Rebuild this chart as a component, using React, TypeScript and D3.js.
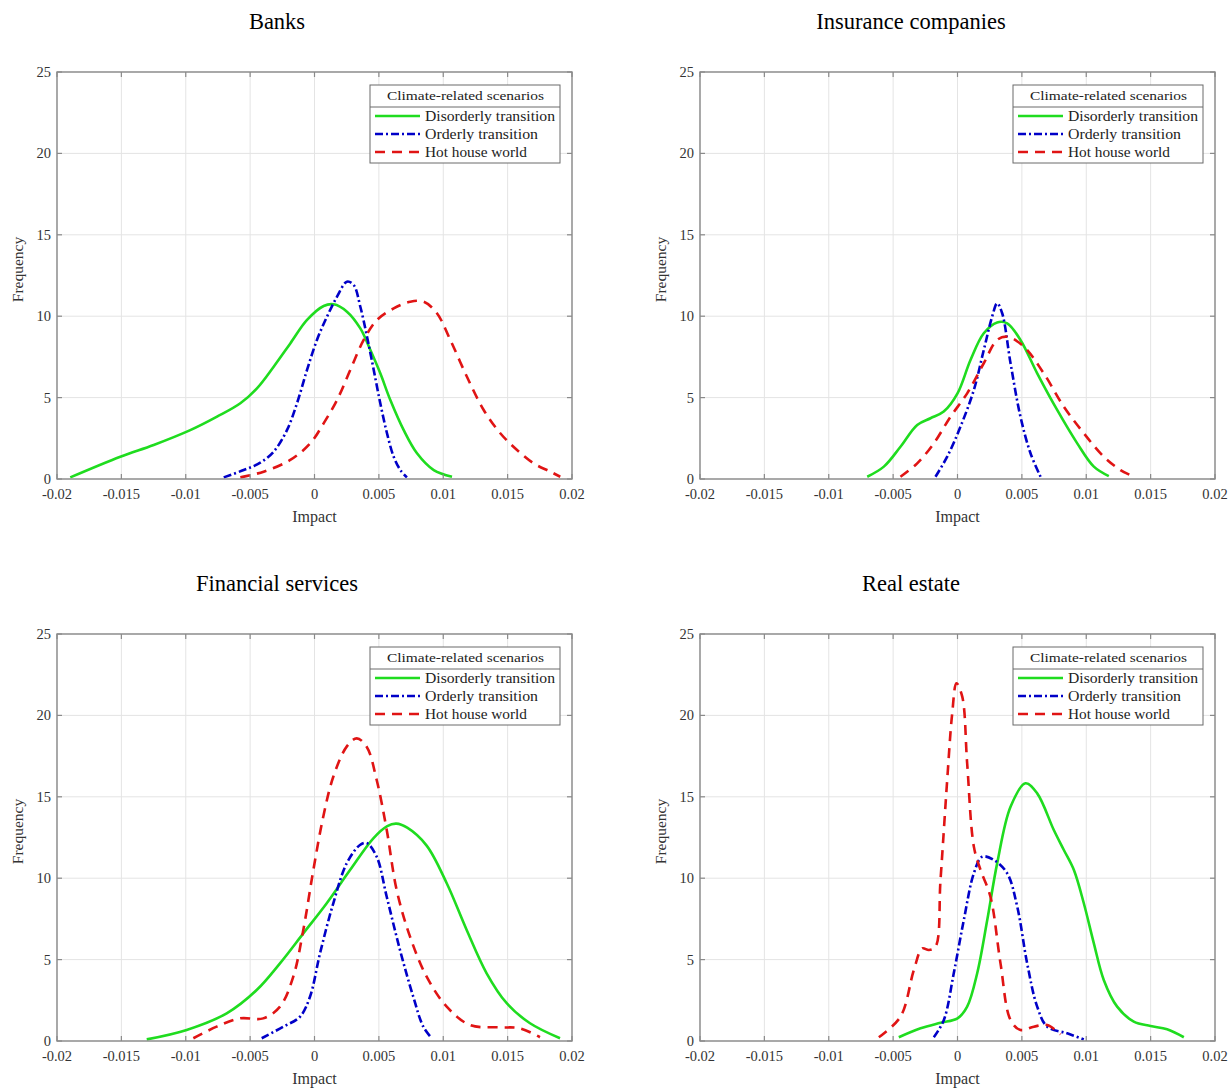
import React from "react";
import * as d3 from "d3";

type Pt = [number, number];

// ---- data (impact, frequency) ----
const banksDisorderly: Pt[] = [
  [-0.01897, 0.1], [-0.01508, 1.37], [-0.01249, 2.09], [-0.00965, 3.0], [-0.00757, 3.83],
  [-0.00576, 4.65], [-0.00447, 5.57], [-0.00317, 6.9], [-0.00188, 8.33], [-0.00058, 9.77],
  [0.00071, 10.63], [0.00149, 10.73], [0.00252, 10.28], [0.00356, 9.25], [0.00434, 7.92],
  [0.00511, 6.49], [0.00589, 4.85], [0.00693, 3.0], [0.00796, 1.58], [0.00926, 0.55], [0.01068, 0.14],
];
const banksOrderly: Pt[] = [
  [-0.00705, 0.1], [-0.0055, 0.55], [-0.00421, 1.0], [-0.00317, 1.68], [-0.00214, 3.0],
  [-0.00136, 4.65], [-0.00058, 6.7], [0.00019, 8.54], [0.00097, 9.97], [0.00175, 11.2],
  [0.00252, 12.12], [0.00304, 11.92], [0.00356, 10.58], [0.00408, 8.74], [0.0046, 6.7],
  [0.00511, 4.65], [0.00563, 2.81], [0.00615, 1.37], [0.00667, 0.55], [0.00718, 0.1],
];
const banksHotHouse: Pt[] = [
  [-0.00576, 0.1], [-0.00395, 0.45], [-0.00188, 1.17], [-0.00033, 2.19], [0.00071, 3.42],
  [0.00175, 4.85], [0.00278, 6.7], [0.00382, 8.54], [0.00485, 9.77], [0.00615, 10.48],
  [0.00744, 10.89], [0.00848, 10.89], [0.00951, 10.18], [0.01055, 8.54], [0.01184, 6.28],
  [0.01314, 4.24], [0.01443, 2.81], [0.01573, 1.78], [0.01702, 0.96], [0.01832, 0.45], [0.01909, 0.14],
];

const insDisorderly: Pt[] = [
  [-0.00701, 0.14], [-0.00572, 0.76], [-0.00443, 1.98], [-0.00313, 3.32], [-0.0021, 3.73],
  [-0.00107, 4.14], [0.0, 5.26], [0.00101, 7.31], [0.00204, 8.95], [0.00308, 9.62],
  [0.00386, 9.56], [0.00489, 8.54], [0.00619, 6.49], [0.00774, 4.24], [0.0093, 2.19],
  [0.01059, 0.76], [0.01175, 0.18],
];
const insOrderly: Pt[] = [
  [-0.00171, 0.14], [-0.0008, 1.37], [0.00023, 3.21], [0.00127, 5.47], [0.00204, 7.92],
  [0.00269, 9.97], [0.00308, 10.79], [0.00347, 10.18], [0.00412, 7.11], [0.00489, 3.83],
  [0.00567, 1.58], [0.00645, 0.14],
];
const insHotHouse: Pt[] = [
  [-0.00443, 0.14], [-0.00313, 0.96], [-0.00184, 2.19], [-0.00054, 3.83], [0.00075, 5.26],
  [0.00204, 7.11], [0.00308, 8.54], [0.00386, 8.74], [0.00515, 8.13], [0.0067, 6.49],
  [0.00826, 4.44], [0.00981, 2.81], [0.01136, 1.37], [0.01266, 0.55], [0.01369, 0.14],
];

const finDisorderly: Pt[] = [
  [-0.01303, 0.1], [-0.00993, 0.68], [-0.00682, 1.7], [-0.00449, 3.13], [-0.00268, 4.77],
  [-0.00087, 6.61], [0.00095, 8.46], [0.00276, 10.5], [0.00457, 12.45], [0.00565, 13.2],
  [0.00635, 13.35], [0.0072, 13.1], [0.00871, 12.0], [0.01027, 9.69], [0.01182, 6.82], [0.01337, 4.16],
  [0.01493, 2.32], [0.01674, 1.09], [0.01907, 0.17],
];
const finOrderly: Pt[] = [
  [-0.0041, 0.17], [-0.00242, 0.88], [-0.00113, 1.49], [-0.00035, 2.72], [0.00043, 5.39],
  [0.00146, 8.46], [0.0025, 10.91], [0.00353, 12.04], [0.00405, 12.16], [0.00483, 11.32],
  [0.00561, 8.86], [0.00664, 5.59], [0.00767, 2.72], [0.00845, 0.88], [0.0091, 0.17],
];
const finHotHouse: Pt[] = [
  [-0.00941, 0.17], [-0.0076, 0.88], [-0.00579, 1.39], [-0.00398, 1.39], [-0.00268, 2.11],
  [-0.00165, 3.95], [-0.00087, 6.82], [-0.00009, 10.5], [0.00068, 13.78], [0.00146, 16.23],
  [0.0025, 18.08], [0.00328, 18.59], [0.00405, 18.08], [0.00483, 16.03], [0.00561, 12.96],
  [0.00638, 9.28], [0.00742, 6.41], [0.00871, 3.95], [0.01027, 2.11], [0.01208, 0.98],
  [0.01441, 0.84], [0.01596, 0.78], [0.01751, 0.23],
];

const reDisorderly: Pt[] = [
  [-0.00456, 0.23], [-0.00287, 0.78], [-0.00132, 1.12], [0.0, 1.39], [0.00075, 2.11],
  [0.00153, 4.16], [0.00231, 7.43], [0.00308, 10.91], [0.00412, 14.39], [0.00528, 15.83],
  [0.00619, 15.21], [0.00748, 12.96], [0.00826, 11.73], [0.00904, 10.5], [0.00981, 8.46],
  [0.01059, 6.0], [0.01136, 3.75], [0.0124, 2.11], [0.01369, 1.19], [0.01499, 0.92],
  [0.01628, 0.72], [0.01758, 0.23],
];
const reOrderly: Pt[] = [
  [-0.00184, 0.23], [-0.00106, 1.29], [-0.00029, 4.16], [0.00049, 7.43], [0.00127, 10.3],
  [0.00192, 11.32], [0.00282, 11.12], [0.00386, 10.3], [0.00464, 8.25], [0.00541, 4.77],
  [0.00619, 2.11], [0.00697, 0.88], [0.00852, 0.47], [0.00981, 0.1],
];
const reHotHouse: Pt[] = [
  [-0.00611, 0.23], [-0.00443, 1.49], [-0.00339, 4.36], [-0.00274, 5.69], [-0.00223, 5.59],
  [-0.00171, 5.79], [-0.00132, 9.89], [-0.0008, 16.03], [-0.00041, 20.13], [-0.00008, 21.97],
  [0.00037, 21.15], [0.00075, 17.06], [0.00127, 11.94], [0.00179, 10.5], [0.00256, 8.86],
  [0.00334, 4.77], [0.00412, 1.29], [0.00489, 0.68], [0.00593, 0.88], [0.00697, 0.98], [0.008, 0.41],
];

const panelTitles = ["Banks", "Insurance companies", "Financial services", "Real estate"];
const panelSeries: Pt[][][] = [
  [banksDisorderly, banksOrderly, banksHotHouse],
  [insDisorderly, insOrderly, insHotHouse],
  [finDisorderly, finOrderly, finHotHouse],
  [reDisorderly, reOrderly, reHotHouse],
];
const seriesNames = ["Disorderly transition", "Orderly transition", "Hot house world"];
const legendTitle = "Climate-related scenarios";
const xTicks = [-0.02, -0.015, -0.01, -0.005, 0, 0.005, 0.01, 0.015, 0.02];
const xTickLabels = ["-0.02", "-0.015", "-0.01", "-0.005", "0", "0.005", "0.01", "0.015", "0.02"];
const yTicks = [0, 5, 10, 15, 20, 25];
const xLabel = "Impact";
const yLabel = "Frequency";

// ---- styles ----
const seriesColors = ["#1fdc1f", "#0000c8", "#e01414"];
const seriesDash = ["none", "8,3,2,3", "10,7"];
const legendTextWidths = [130, 113, 102];
const FONT = "'Liberation Serif', 'Times New Roman', serif";
const AXIS_COLOR = "#8a8a8a";
const GRID_COLOR = "#e4e4e4";
const TEXT_COLOR = "#333";

function Panel({ idx }: { idx: number }) {
  const col = idx % 2;
  const row = Math.floor(idx / 2);
  const left = 57 + col * 643;
  const top = 72 + row * 562;
  const w = 515;
  const h = 407;
  const x = d3.scaleLinear().domain([-0.02, 0.02]).range([left, left + w]);
  const y = d3.scaleLinear().domain([0, 25]).range([top + h, top]);
  const line = d3
    .line<Pt>()
    .x((d) => x(d[0]))
    .y((d) => y(d[1]))
    .curve(d3.curveCatmullRom.alpha(0.5));
  const titleX = col === 0 ? 277 : 911;
  const tl = 5;
  const lgX = left + 313;
  const lgY = top + 13;
  return (
    <g>
      <text x={titleX} y={top - 43} textAnchor="middle" fontFamily={FONT} fontSize={22.5} fill="#000">
        {panelTitles[idx]}
      </text>
      {/* grid */}
      {xTicks.map((t, i) => (
        <line key={"gx" + i} x1={x(t)} x2={x(t)} y1={top} y2={top + h} stroke={GRID_COLOR} strokeWidth={1} />
      ))}
      {yTicks.map((t, i) => (
        <line key={"gy" + i} x1={left} x2={left + w} y1={y(t)} y2={y(t)} stroke={GRID_COLOR} strokeWidth={1} />
      ))}
      {/* curves */}
      {panelSeries[idx].map((s, i) => (
        <path
          key={"s" + i}
          d={line(s) || ""}
          fill="none"
          stroke={seriesColors[i]}
          strokeWidth={2.6}
          strokeDasharray={seriesDash[i]}
          strokeLinejoin="round"
        />
      ))}
      {/* box */}
      <rect x={left} y={top} width={w} height={h} fill="none" stroke={AXIS_COLOR} strokeWidth={1.4} />
      {/* ticks */}
      {xTicks.map((t, i) => (
        <g key={"tx" + i}>
          <line x1={x(t)} x2={x(t)} y1={top + h} y2={top + h - tl} stroke={AXIS_COLOR} strokeWidth={1.2} />
          <line x1={x(t)} x2={x(t)} y1={top} y2={top + tl} stroke={AXIS_COLOR} strokeWidth={1.2} />
          <text x={x(t)} y={top + h + 20} textAnchor="middle" fontFamily={FONT} fontSize={14.5} fill={TEXT_COLOR}>
            {xTickLabels[i]}
          </text>
        </g>
      ))}
      {yTicks.map((t, i) => (
        <g key={"ty" + i}>
          <line x1={left} x2={left + tl} y1={y(t)} y2={y(t)} stroke={AXIS_COLOR} strokeWidth={1.2} />
          <line x1={left + w} x2={left + w - tl} y1={y(t)} y2={y(t)} stroke={AXIS_COLOR} strokeWidth={1.2} />
          <text x={left - 6} y={y(t) + 5} textAnchor="end" fontFamily={FONT} fontSize={14.5} fill={TEXT_COLOR}>
            {t}
          </text>
        </g>
      ))}
      <text x={left + w / 2} y={top + h + 43} textAnchor="middle" fontFamily={FONT} fontSize={16} fill={TEXT_COLOR}>
        {xLabel}
      </text>
      <text
        transform={`translate(${left - 34},${top + h / 2 - 6}) rotate(-90)`}
        textAnchor="middle"
        fontFamily={FONT}
        fontSize={15.5}
        fill={TEXT_COLOR}
      >
        {yLabel}
      </text>
      {/* legend */}
      <rect x={lgX} y={lgY} width={190} height={78} fill="#fff" stroke="#6a6a6a" strokeWidth={1} />
      <line x1={lgX} x2={lgX + 190} y1={lgY + 22} y2={lgY + 22} stroke="#6a6a6a" strokeWidth={1} />
      <text
        x={lgX + 17}
        y={lgY + 14.5}
        fontFamily={FONT}
        fontSize={13.5}
        fill="#222"
        textLength={157}
        lengthAdjust="spacingAndGlyphs"
      >
        {legendTitle}
      </text>
      {seriesNames.map((n, i) => {
        const ly = lgY + 31 + i * 18;
        return (
          <g key={"lg" + i}>
            <line
              x1={lgX + 5}
              x2={lgX + 50}
              y1={ly}
              y2={ly}
              stroke={seriesColors[i]}
              strokeWidth={2.6}
              strokeDasharray={seriesDash[i]}
            />
            <text
              x={lgX + 55}
              y={ly + 4.5}
              fontFamily={FONT}
              fontSize={14}
              fill="#222"
              textLength={legendTextWidths[i]}
              lengthAdjust="spacingAndGlyphs"
            >
              {n}
            </text>
          </g>
        );
      })}
    </g>
  );
}

export default function App() {
  return (
    <svg
      width={1232}
      height={1091}
      style={{ position: "absolute", left: 0, top: 0, background: "#fff" }}
    >
      <rect x={0} y={0} width={1232} height={1091} fill="#fff" />
      {panelTitles.map((_, i) => (
        <Panel key={i} idx={i} />
      ))}
    </svg>
  );
}
